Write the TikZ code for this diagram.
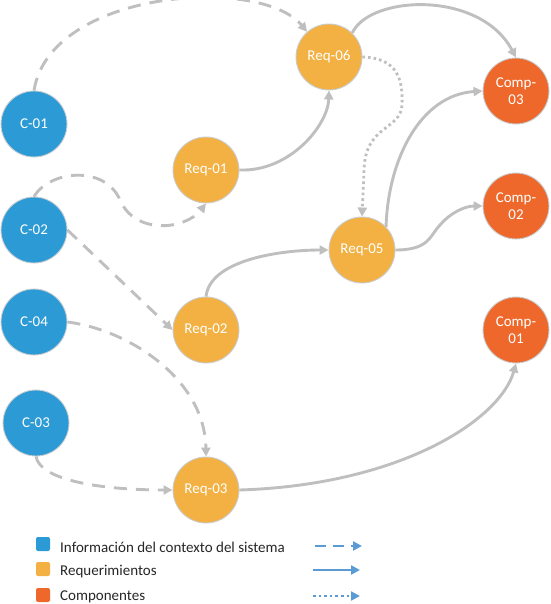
\documentclass[tikz,border=0pt]{standalone}
\usepackage{fontspec}
\setmainfont{Carlito}
\usetikzlibrary{arrows.meta}
\definecolor{cblue}{HTML}{2B9AD5}
\definecolor{cyel}{HTML}{F2B142}
\definecolor{corg}{HTML}{EE682B}
\definecolor{edgegray}{HTML}{BFBFBF}
\definecolor{rimgray}{HTML}{C9CDD1}
\definecolor{legblue}{HTML}{5B9BD5}
\tikzset{
  circ/.style={circle, minimum size=66pt, inner sep=0pt, draw=rimgray, line width=0.9pt,
    text=white, font=\fontsize{15}{17.5}\selectfont, align=center},
  cnode/.style={circ, fill=cblue},
  rnode/.style={circ, fill=cyel},
  knode/.style={circ, fill=corg},
  conn/.style={draw=edgegray, line width=2.9pt, -{Triangle[length=9pt,width=9pt]}},
  dashconn/.style={conn, dash pattern=on 13pt off 9pt},
  dotconn/.style={conn, line width=2.8pt, dash pattern=on 2.6pt off 3pt},
  legsq/.style={rounded corners=2pt, minimum size=14pt, inner sep=0pt},
  legtxt/.style={anchor=west, font=\fontsize{15}{17}\selectfont, text=black!85, inner sep=0pt},
  legarrow/.style={draw=legblue, line width=2.8pt, -{Triangle[length=9pt,width=9pt]}}
}
\begin{document}
\begin{tikzpicture}[x=1pt,y=-1pt]
\useasboundingbox (0,0) rectangle (550,604);
% nodes
\node[cnode] (c01) at (34,124) {C-01};
\node[cnode] (c02) at (34,230) {C-02};
\node[cnode] (c04) at (34,322) {C-04};
\node[cnode] (c03) at (36,423) {C-03};
\node[rnode] (r01) at (206,170) {Req-01};
\node[rnode] (r06) at (329,57) {Req-06};
\node[rnode] (r05) at (362,250) {Req-05};
\node[rnode] (r02) at (206,330) {Req-02};
\node[rnode] (r03) at (206,490) {Req-03};
\node[knode] (k03) at (516,91) {Comp-\\03};
\node[knode] (k02) at (516,206) {Comp-\\02};
\node[knode] (k01) at (516,330) {Comp-\\01};
% dashed connectors
\path[dashconn] (c01.north) .. controls (50,-10) and (260,-25) .. (r06.131);
\path[dashconn] (c02.north) .. controls (50,170) and (105,165) .. (120,200)
   .. controls (135,235) and (185,230) .. (r01.south);
\path[dashconn] (c02.east) -- (r02.west);
\path[dashconn] (c04.east) .. controls (130,330) and (205,380) .. (r03.north);
\path[dashconn] (c03.south) .. controls (40,480) and (100,490) .. (r03.west);
% solid connectors
\path[conn] (r01.east) .. controls (290,172) and (328,125) .. (r06.south);
\path[conn] (r06.46) .. controls (370,-5) and (480,-10) .. (k03.north);
\path[conn] (r02.north) .. controls (210,260) and (280,250) .. (r05.west);
\path[conn] (r05.44) .. controls (388,160) and (420,95) .. (k03.west);
\path[conn] (r05.east) .. controls (430,250) and (430,235) .. (440,225)
   .. controls (450,213) and (465,206) .. (k02.west);
\path[conn] (r03.east) .. controls (400,485) and (500,420) .. (k01.south);
% dotted connector
\path[dotconn] (r06.east) .. controls (398,58) and (403,80) .. (402,105)
   .. controls (401,130) and (365,125) .. (364,170) -- (r05.north);
% legend
\node[legsq, fill=cblue] (lsq1) at (43,544) {};
\node[legsq, fill=cyel] (lsq2) at (43,569) {};
\node[legsq, fill=corg] (lsq3) at (43,595) {};
\node[legtxt] (lt1) at (60,547) {Información del contexto del sistema};
\node[legtxt] (lt2) at (60,572) {Requerimientos};
\node[legtxt] (lt3) at (60,597) {Componentes};
\coordinate (la1) at (315,546);
\coordinate (lb1) at (362,546);
\coordinate (la2) at (313,570);
\coordinate (lb2) at (360,570);
\coordinate (la3) at (313,596);
\coordinate (lb3) at (360,596);
\draw[legarrow, dash pattern=on 11pt off 7pt] (la1) -- (lb1);
\draw[legarrow] (la2) -- (lb2);
\draw[legarrow, dash pattern=on 2.6pt off 3pt] (la3) -- (lb3);
\end{tikzpicture}
\end{document}
